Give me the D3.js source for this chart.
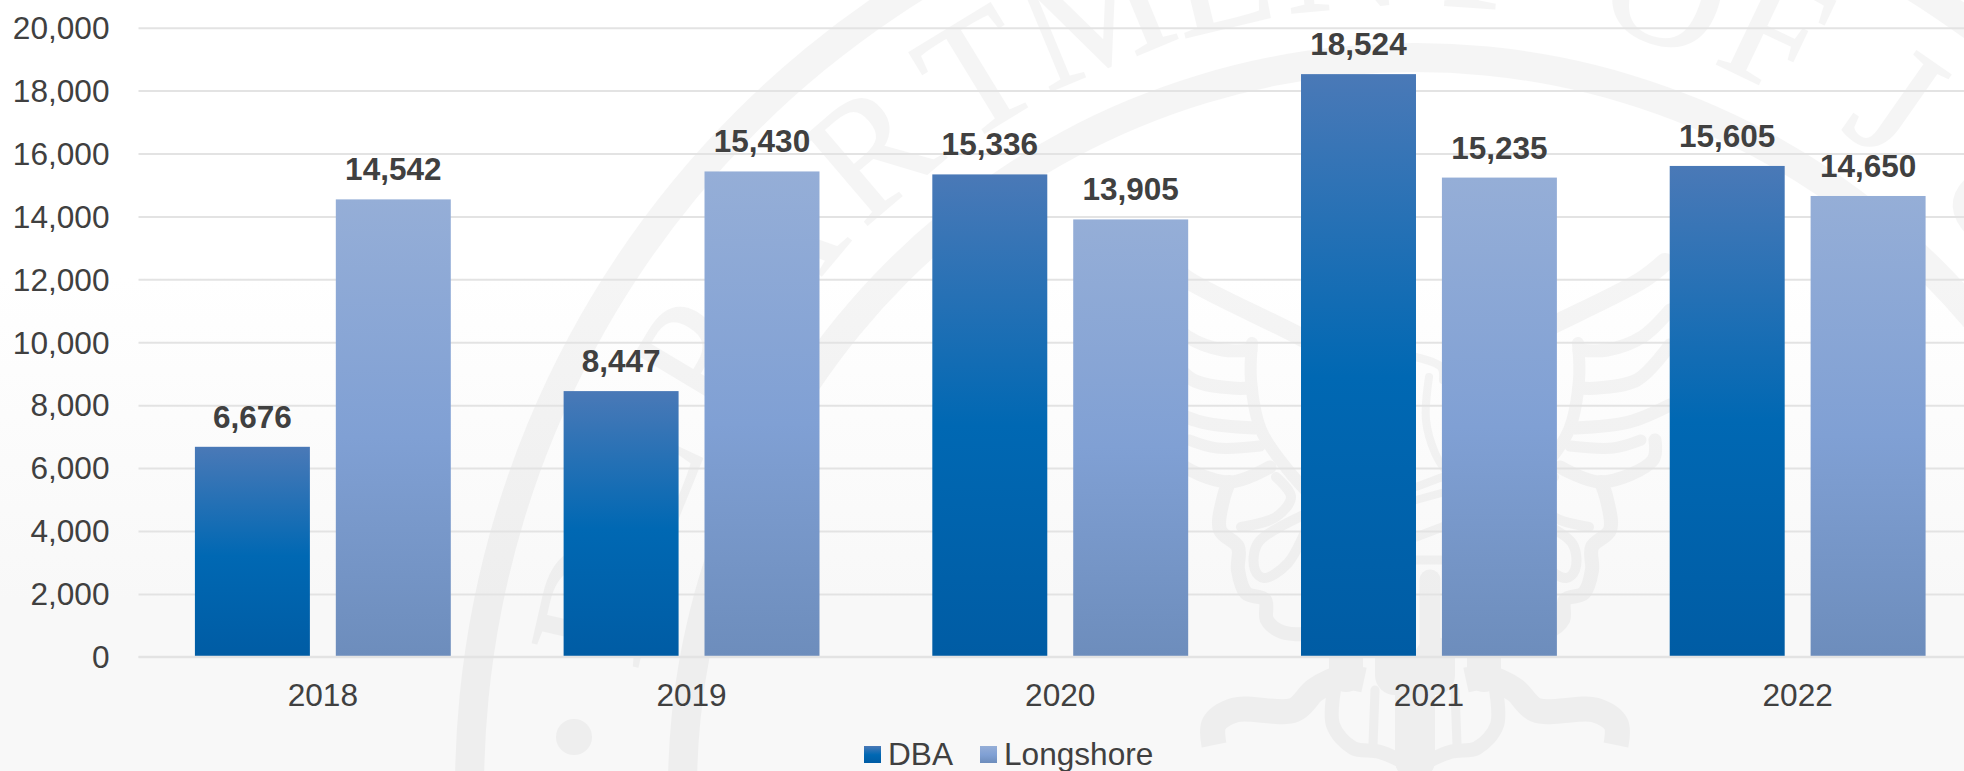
<!DOCTYPE html>
<html>
<head>
<meta charset="utf-8">
<script src="https://cdn.jsdelivr.net/npm/d3@7/dist/d3.min.js"></script>
<style>
  html, body { margin: 0; padding: 0; background: #fff; overflow: hidden; }
  svg { display: block; }
  text { font-family: "Liberation Sans", Arial, sans-serif; fill: #404040; }
</style>
</head>
<body>
<svg id="chart" width="1964" height="771"></svg>
<script>
// Chart values
const years = ["2018", "2019", "2020", "2021", "2022"];
const seriesNames = ["DBA", "Longshore"];
const dbaValues = [6676, 8447, 15336, 18524, 15605];
const longshoreValues = [14542, 15430, 13905, 15235, 14650];
const yTicks = [0, 2000, 4000, 6000, 8000, 10000, 12000, 14000, 16000, 18000, 20000];

// Seal behind the plot: lettering around the ring and the half outline of the eagle
const sealLetters = ["D","E","P","A","R","T","M","E","N","T","O","F","J","U"];
const sealLetterAngles = [-77, -68, -59, -50, -40.5, -31.4, -22.5, -13.6, -5, 4, 17.5, 25.5, 35, 45];
const sealStrokes = [
  { w: 18, pts: [[-250,262],[-227,280],[-114,337],[-70,362]] },
  { w: 12, pts: [[-163,343],[-164,380],[-154,430],[-127,470],[-100,500]] },
  { w: 13, pts: [[-255,310],[-227,337],[-192,350],[-164,350]] },
  { w: 13, pts: [[-255,345],[-222,380],[-183,388],[-164,388]] },
  { w: 13, pts: [[-255,405],[-214,422],[-160,428]] },
  { w: 11, pts: [[-226,440],[-198,448],[-155,446]] },
  { w: 13, pts: [[-240,440],[-238,460],[-186,482],[-145,467]] },
  { w: 14, pts: [[-186,482],[-192,500],[-195,530],[-177,547],[-177,570],[-169,593],[-150,600],[-148,620],[-133,632],[-100,634]] },
  { w: 10, pts: [[-139,477],[-124,497],[-139,517],[-174,527]] },
  { w: 10, pts: [[-100,510],[-157,543],[-160,570],[-151,578],[-127,563],[-105,520]] },
  { w: 8,  pts: [[0,357],[26,367],[28,380]] },
  { w: 8,  pts: [[14,377],[11,420],[20,453],[30,470]] },
  { w: 8,  pts: [[1,487],[30,476]] },
  { w: 8,  pts: [[1,500],[30,492]] },
  { w: 9,  pts: [[1,537],[30,526]] },
  { w: 9,  pts: [[1,560],[30,560]] },
  { w: 21, pts: [[15,580],[15,660]] },
  { w: 25, pts: [[-201,745],[-201,724],[-180,710],[-121,710],[-100,690],[-74,678],[-51,680]], cap: "butt" },
  { w: 34, pts: [[-69,657],[-69,675]] },
  { w: 40, pts: [[-20,657],[-20,675]] },
  { w: 14, pts: [[-80,684],[-82,725],[-62,748],[-35,752],[0,768]] },
  { w: 9,  pts: [[-40,690],[-42,745]] },
  { w: 40, pts: [[0,690],[0,760]] }
];

const width = 1964, height = 771;
const sealCx = 1415, sealCy = 790;
const svg = d3.select("#chart");
const defs = svg.append("defs");

// Bar fills run top to bottom inside each bar's own box
function barGradient(id, stops) {
  const g = defs.append("linearGradient").attr("id", id)
    .attr("x1", 0).attr("y1", 0).attr("x2", 0).attr("y2", 1);
  stops.forEach(([o, c]) => g.append("stop").attr("offset", o).attr("stop-color", c));
}
barGradient("fill-DBA", [[0, "#4a79b7"], [0.52, "#0068b3"], [1, "#005ca4"]]);
barGradient("fill-Longshore", [[0, "#95aed7"], [0.52, "#80a0d4"], [1, "#6d8dbc"]]);
barGradient("page-fill", [[0, "#ffffff"], [0.36, "#ffffff"], [0.78, "#f8f8f8"], [1, "#f8f8f8"]]);

svg.append("rect").attr("width", width).attr("height", height).attr("fill", "url(#page-fill)");

// Seal
const seal = svg.append("g").attr("opacity", 0.036);
[[960, 931], [747, 718]].forEach(([outer, inner]) => {
  seal.append("path")
    .attr("transform", `translate(${sealCx},${sealCy})`)
    .attr("d", d3.arc().innerRadius(inner).outerRadius(outer).startAngle(0).endAngle(2 * Math.PI)());
});
seal.selectAll("text.letter").data(sealLetters).join("text")
  .attr("class", "letter")
  .attr("x", sealCx).attr("y", sealCy - 785)
  .attr("text-anchor", "middle")
  .attr("transform", (d, i) => `rotate(${sealLetterAngles[i]},${sealCx},${sealCy})`)
  .style("font-family", '"Liberation Serif", serif')
  .style("font-size", "165px")
  .style("fill", "#000")
  .style("stroke", "#000")
  .style("stroke-width", 1.5)
  .text(d => d);
seal.append("circle").attr("cx", 574).attr("cy", 737).attr("r", 18);
const sealLine = d3.line().curve(d3.curveCatmullRom.alpha(0.5));
[1, -1].forEach(side => {
  seal.selectAll(null).data(sealStrokes).join("path")
    .attr("fill", "none").attr("stroke", "#000")
    .attr("stroke-width", d => d.w)
    .attr("stroke-linecap", d => d.cap || "round")
    .attr("stroke-linejoin", "round")
    .attr("d", d => sealLine(d.pts.map(([dx, y]) => [sealCx + side * dx, y])));
});

// Scales
const x0 = d3.scaleBand().domain(years).range([138.5, 1982]).paddingInner(0.306).paddingOuter(0.153);
const x1 = d3.scaleBand().domain(seriesNames).range([0, x0.bandwidth()]).paddingInner(0.184);
const y = d3.scaleLinear().domain([0, 20000]).range([656.8, 27.7]);

// Value axis with full-width gridlines
const yAxis = svg.append("g").attr("transform", "translate(138.5,0)")
  .call(d3.axisLeft(y).tickValues(yTicks).tickFormat(d3.format(",")).tickSize(-(width - 138.5)).tickPadding(29));
yAxis.select(".domain").remove();
yAxis.selectAll(".tick line").attr("stroke", "#e3e3e3").attr("stroke-width", 2);
yAxis.selectAll(".tick text").style("font-size", "31.6px").attr("dy", "0.34em");

// Bars and their value labels
const seriesValues = { DBA: dbaValues, Longshore: longshoreValues };
const rows = seriesNames.flatMap(s => years.map((yr, i) => ({ s, yr, v: seriesValues[s][i] })));
const bars = svg.append("g");
bars.selectAll("rect").data(rows).join("rect")
  .attr("x", d => x0(d.yr) + x1(d.s))
  .attr("width", x1.bandwidth())
  .attr("y", d => y(d.v))
  .attr("height", d => y(0) - y(d.v))
  .attr("fill", d => `url(#fill-${d.s})`);
svg.append("g").selectAll("text").data(rows).join("text")
  .attr("x", d => x0(d.yr) + x1(d.s) + x1.bandwidth() / 2)
  .attr("y", d => y(d.v) - 19)
  .attr("text-anchor", "middle")
  .style("font-size", "31.5px").style("font-weight", "bold")
  .text(d => d3.format(",")(d.v));

// Category axis
const xAxis = svg.append("g").attr("transform", `translate(0,${y(0)})`)
  .call(d3.axisBottom(x0).tickSize(0).tickPadding(26.5));
xAxis.select(".domain").remove();
xAxis.selectAll(".tick text").style("font-size", "31.6px").attr("dy", "0.71em");
svg.append("line").attr("x1", 138.5).attr("x2", width).attr("y1", y(0)).attr("y2", y(0))
  .attr("stroke", "#e3e3e3").attr("stroke-width", 2);

// Legend
const legendSwatchX = [864, 980];
const legend = svg.append("g").selectAll("g").data(seriesNames).join("g")
  .attr("transform", (d, i) => `translate(${legendSwatchX[i]},0)`);
legend.append("rect").attr("y", 746).attr("width", 17).attr("height", 17)
  .attr("fill", d => `url(#fill-${d})`);
legend.append("text").attr("x", 24).attr("y", 765).style("font-size", "31.6px").text(d => d);
</script>
</body>
</html>
